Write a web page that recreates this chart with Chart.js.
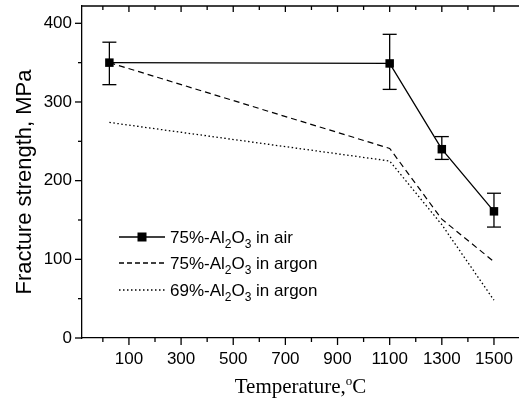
<!DOCTYPE html>
<html>
<head>
<meta charset="utf-8">
<script src="https://cdn.jsdelivr.net/npm/chart.js@4.4.1/dist/chart.umd.min.js"></script>
<style>
  html, body { margin: 0; padding: 0; background: #fff; }
  #wrap { width: 519px; height: 404px; }
</style>
</head>
<body>
<div id="wrap"><canvas id="chart" width="519" height="404"></canvas></div>
<script>
// data
const temps = [25, 1100, 1300, 1500];
const airStrength = [350, 349, 240, 161];
const airErrHigh = [376, 386, 256, 184];
const airErrLow = [322, 316, 227, 141];
const argon75 = [350, 241, 151, 97];
const argon69 = [274, 225, 144, 48];

const xTickLabels = [100, 300, 500, 700, 900, 1100, 1300, 1500];
const yTickLabels = [0, 100, 200, 300, 400];
const xMinorTicks = [0, 200, 400, 600, 800, 1000, 1200, 1400];
const yMinorTicks = [50, 150, 250, 350];

const X_MIN = -80, X_MAX = 1596, Y_MIN = 0, Y_MAX = 422;

const legendRows = [
  { pct: '75%', rest: ' in air', style: 'solid' },
  { pct: '75%', rest: ' in argon', style: 'dash' },
  { pct: '69%', rest: ' in argon', style: 'dot' }
];

const SANS = '"Liberation Sans", Arial, sans-serif';
const SERIF = '"Liberation Serif", "Times New Roman", serif';

function toPts(ys) {
  return temps.map((t, i) => ({ x: t, y: ys[i] }));
}

function line(ctx, x1, y1, x2, y2) {
  ctx.beginPath();
  ctx.moveTo(x1, y1);
  ctx.lineTo(x2, y2);
  ctx.stroke();
}

// "75%-Al2O3 in air" with small subscripts
function drawChem(ctx, x, y, pct, rest) {
  const big = '17px ' + SANS, small = '12px ' + SANS;
  const parts = [[pct + '-Al', 0], ['2', 1], ['O', 0], ['3', 1], [rest, 0]];
  ctx.textBaseline = 'alphabetic';
  ctx.textAlign = 'left';
  parts.forEach(p => {
    ctx.font = p[1] ? small : big;
    ctx.fillText(p[0], x, y + (p[1] ? 5 : 0));
    x += ctx.measureText(p[0]).width;
  });
}

const decor = {
  id: 'decor',
  beforeDatasetsDraw(chart) {
    const ctx = chart.ctx, xs = chart.scales.x, ys = chart.scales.y;
    ctx.save();
    ctx.strokeStyle = '#000';
    ctx.lineWidth = 1.3;
    temps.forEach((t, i) => {
      const px = xs.getPixelForValue(t);
      const top = ys.getPixelForValue(airErrHigh[i]);
      const bot = ys.getPixelForValue(airErrLow[i]);
      line(ctx, px, top, px, bot);
      line(ctx, px - 7, top, px + 7, top);
      line(ctx, px - 7, bot, px + 7, bot);
    });
    ctx.restore();
  },
  afterDraw(chart) {
    const ctx = chart.ctx, xs = chart.scales.x, ys = chart.scales.y;
    const area = chart.chartArea;
    let L = xs.getPixelForValue(X_MIN), R = xs.getPixelForValue(X_MAX);
    let T = ys.getPixelForValue(Y_MAX), B = ys.getPixelForValue(Y_MIN);
    if (!isFinite(L)) L = area.left;
    if (!isFinite(R)) R = area.right;
    if (!isFinite(T)) T = area.top;
    if (!isFinite(B)) B = area.bottom;
    ctx.save();
    ctx.strokeStyle = '#000';
    ctx.fillStyle = '#000';
    ctx.lineWidth = 1.3;
    ctx.setLineDash([]);
    // top frame
    line(ctx, L, T, R, T);
    // y ticks (outside)
    yTickLabels.forEach(v => { const p = ys.getPixelForValue(v); line(ctx, L - 7, p, L, p); });
    yMinorTicks.forEach(v => { const p = ys.getPixelForValue(v); line(ctx, L - 4, p, L, p); });
    // x ticks (outside) and top ticks (inside)
    xTickLabels.forEach(v => {
      const p = xs.getPixelForValue(v);
      line(ctx, p, B, p, B + 7);
      line(ctx, p, T, p, T + 6);
    });
    xMinorTicks.forEach(v => {
      const p = xs.getPixelForValue(v);
      line(ctx, p, B, p, B + 4);
      line(ctx, p, T, p, T + 4);
    });

    // axis titles
    ctx.save();
    ctx.translate(25, 182);
    ctx.rotate(-Math.PI / 2);
    ctx.font = '22px ' + SANS;
    ctx.textAlign = 'center';
    ctx.textBaseline = 'middle';
    ctx.fillText('Fracture strength, MPa', 0, 0);
    ctx.restore();

    ctx.textBaseline = 'alphabetic';
    ctx.textAlign = 'left';
    const t1 = 'Temperature,', t2 = 'o', t3 = 'C';
    ctx.font = '21px ' + SERIF;
    const w1 = ctx.measureText(t1).width, w3 = ctx.measureText(t3).width;
    ctx.font = '13px ' + SERIF;
    const w2 = ctx.measureText(t2).width;
    let tx = (L + R) / 2 - (w1 + w2 + w3) / 2;
    ctx.font = '21px ' + SERIF;
    ctx.fillText(t1, tx, 393);
    ctx.font = '13px ' + SERIF;
    ctx.fillText(t2, tx + w1, 385);
    ctx.font = '21px ' + SERIF;
    ctx.fillText(t3, tx + w1 + w2, 393);

    // legend
    const rowY = [237, 263, 290];
    legendRows.forEach((r, i) => {
      const y = rowY[i];
      ctx.lineWidth = 1.3;
      if (r.style === 'dash') ctx.setLineDash([5, 3]);
      else if (r.style === 'dot') ctx.setLineDash([1.5, 2.5]);
      else ctx.setLineDash([]);
      line(ctx, 119, y, 165, y);
      ctx.setLineDash([]);
      if (r.style === 'solid') ctx.fillRect(137.5, y - 4.5, 9, 9);
      drawChem(ctx, 170, y + 6, r.pct, r.rest);
    });
    ctx.restore();
  }
};

new Chart(document.getElementById('chart'), {
  type: 'scatter',
  data: {
    datasets: [
      {
        label: '75%-Al2O3 in air',
        data: toPts(airStrength),
        showLine: true,
        borderColor: '#000',
        backgroundColor: '#000',
        borderWidth: 1.3,
        pointStyle: 'rect',
        pointRadius: 6,
        pointBorderWidth: 0,
        order: 0
      },
      {
        label: '75%-Al2O3 in argon',
        data: toPts(argon75),
        showLine: true,
        borderColor: '#000',
        borderWidth: 1.2,
        borderDash: [6, 4],
        pointRadius: 0,
        order: 1
      },
      {
        label: '69%-Al2O3 in argon',
        data: toPts(argon69),
        showLine: true,
        borderColor: '#000',
        borderWidth: 1.3,
        borderDash: [1.5, 2.5],
        pointRadius: 0,
        order: 2
      }
    ]
  },
  options: {
    responsive: false,
    animation: false,
    layout: { autoPadding: false, padding: { top: 6, right: 0, left: 0, bottom: 0 } },
    plugins: { legend: { display: false }, tooltip: { enabled: false } },
    scales: {
      x: {
        type: 'linear',
        min: X_MIN,
        max: X_MAX,
        grid: { display: false, drawTicks: false },
        border: { display: true, color: '#000', width: 1.3 },
        afterBuildTicks: s => { s.ticks = xTickLabels.map(v => ({ value: v })); },
        afterFit: s => { s.height = 66; s.paddingLeft = 0; s.paddingRight = 0; },
        ticks: { color: '#000', font: { family: SANS, size: 17 }, padding: 11, maxRotation: 0, callback: v => String(v) }
      },
      y: {
        min: Y_MIN,
        max: Y_MAX,
        grid: { display: false, drawTicks: false },
        border: { display: true, color: '#000', width: 1.3 },
        afterBuildTicks: s => { s.ticks = yTickLabels.map(v => ({ value: v })); },
        afterFit: s => { s.width = 82; s.paddingTop = 0; s.paddingBottom = 0; },
        ticks: { color: '#000', font: { family: SANS, size: 17 }, padding: 10, callback: v => String(v) }
      }
    }
  },
  plugins: [decor]
});
</script>
</body>
</html>
